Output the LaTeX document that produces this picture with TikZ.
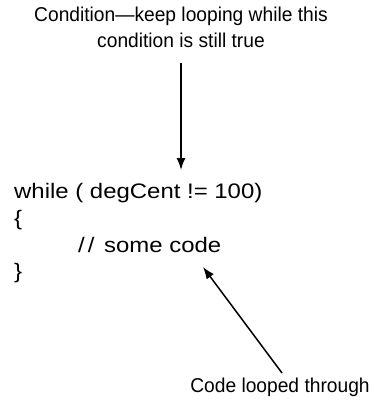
\documentclass[tikz,border=0pt]{standalone}
\usepackage{fontspec}
\setmainfont{Liberation Sans}
\newfontfamily\condfont[FakeStretch=0.96]{Liberation Sans}
\newfontfamily\codefont[FakeStretch=1.14]{Liberation Sans}
\usetikzlibrary{arrows.meta}
\tikzset{
  lbl/.style={font=\condfont\fontsize{20}{25.5}\selectfont, align=center, inner sep=0pt},
  code/.style={font=\codefont\fontsize{21}{26}\selectfont, anchor=base west, inner sep=0pt},
  arr/.style={line width=1.5pt, -{Latex[length=12pt,width=9pt]}}
}
\begin{document}
\begin{tikzpicture}[x=1pt,y=-1pt]
\useasboundingbox (0,0) rectangle (370,405);
\node[lbl, anchor=base] (cond) at (181,47.2) {Condition—keep looping while this\\condition is still true};
\node[code] (while) at (14,198.5) {while ( degCent != 100)};
\node[code] (open) at (14,225) {\{};
\node[code] (body) at (78,252) {/\kern3pt/ \hspace{3pt}some code};
\node[code] (close) at (14,278.5) {\}};
\node[lbl, anchor=base] (loop) at (280,392) {Code looped through};
\coordinate (a1s) at (181,63);
\coordinate (a1e) at (181,170);
\coordinate (a2s) at (282,373);
\coordinate (a2e) at (203,267);
\draw[arr] (a1s) -- (a1e);
\draw[arr] (a2s) -- (a2e);
\end{tikzpicture}
\end{document}
